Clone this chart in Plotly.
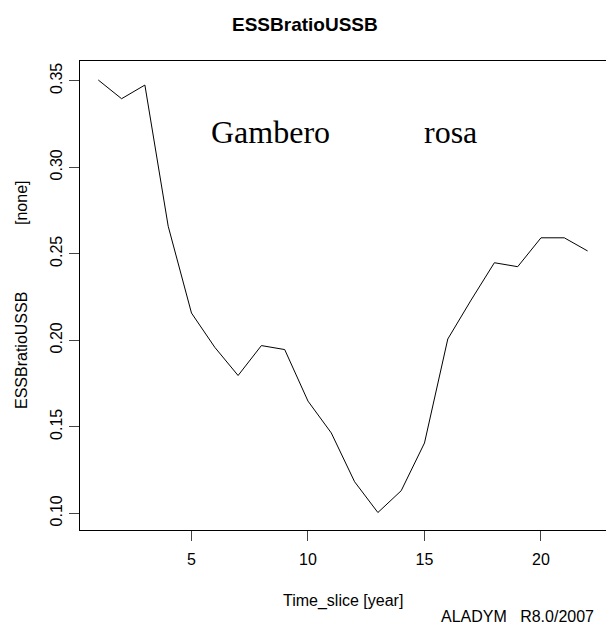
import plotly.graph_objects as go

# Data
time_slice = list(range(1, 23))
essb_ratio = [0.3504, 0.3396, 0.3475, 0.2659, 0.2157, 0.1959, 0.1796, 0.1969,
              0.1946, 0.1648, 0.1464, 0.1182, 0.1004, 0.1130, 0.1406, 0.2007,
              0.2232, 0.2448, 0.2425, 0.2592, 0.2592, 0.2516]
x_ticks = [5, 10, 15, 20]
y_ticks = [0.10, 0.15, 0.20, 0.25, 0.30, 0.35]
y_ticktext = ["0.10", "0.15", "0.20", "0.25", "0.30", "0.35"]

W, H = 606, 626
L, R, T, B = 80, 0, 61, 96
pw, ph = W - L - R, H - T - B

def px(xp):
    return (xp - L) / pw

def py(yp):
    return (H - B - yp) / ph

SANS = "Liberation Sans, Arial, Helvetica, sans-serif"
SERIF = "Liberation Serif, Times New Roman, serif"

fig = go.Figure()
fig.add_trace(go.Scatter(x=time_slice, y=essb_ratio, mode="lines",
                         line=dict(color="black", width=1), hoverinfo="skip",
                         showlegend=False))

fig.update_layout(
    width=W, height=H,
    margin=dict(l=L, r=R, t=T, b=B, pad=0),
    paper_bgcolor="white", plot_bgcolor="white",
    font=dict(family=SANS, size=16, color="black"),
    showlegend=False,
    xaxis=dict(range=[0.215, 22.79], tickmode="array", tickvals=x_ticks,
               ticks="outside", ticklen=10, tickcolor="#444", tickwidth=1,
               showline=True, linecolor="black", linewidth=1, mirror=True,
               showgrid=False, zeroline=False,
               tickfont=dict(family=SANS, size=16), ticklabelstandoff=5),
    yaxis=dict(range=[0.0903, 0.3614], tickmode="array", tickvals=y_ticks,
               ticktext=y_ticktext, tickangle=-90,
               ticks="outside", ticklen=10, tickcolor="#444", tickwidth=1,
               showline=True, linecolor="black", linewidth=1, mirror=False,
               showgrid=False, zeroline=False,
               tickfont=dict(family=SANS, size=16), ticklabelstandoff=1),
)

ann = [
    dict(text="<b>ESSBratioUSSB</b>", x=px(305), y=py(24.5),
         font=dict(family=SANS, size=19)),
    dict(text="Gambero", x=px(270), y=py(132), font=dict(family=SERIF, size=32)),
    dict(text="rosa", x=px(450.7), y=py(132), font=dict(family=SERIF, size=32)),
    dict(text="Time_slice [year]", x=px(343), y=py(601), font=dict(family=SANS, size=16)),
    dict(text="ALADYM   R8.0/2007", x=px(595.5), y=py(616), xanchor="right",
         font=dict(family=SANS, size=16)),
    dict(text="ESSBratioUSSB", x=px(21), y=py(351), textangle=-90,
         font=dict(family=SANS, size=16)),
    dict(text="[none]", x=px(21), y=py(203), textangle=-90,
         font=dict(family=SANS, size=16)),
]
for a in ann:
    a.setdefault("xanchor", "center")
    fig.add_annotation(xref="paper", yref="paper", showarrow=False,
                       yanchor="middle", **a)

fig.write_html("out.html", config={"displayModeBar": False},
               post_script="document.body.style.margin='0';document.body.style.padding='0';")
